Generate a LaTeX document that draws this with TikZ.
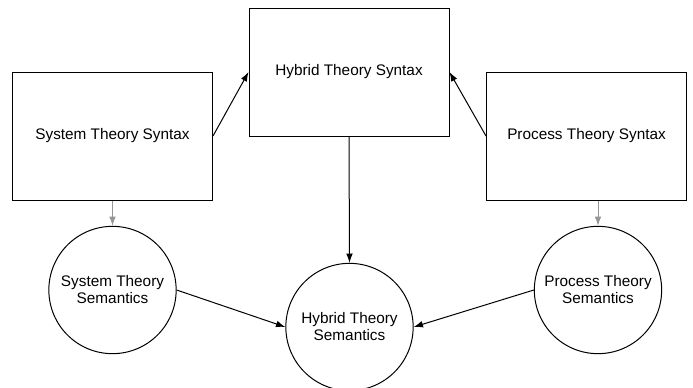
\documentclass[tikz,border=0pt]{standalone}
\usepackage{fontspec}
\setmainfont{Liberation Sans}
\usetikzlibrary{arrows.meta}
\definecolor{softgray}{RGB}{150,150,150}
\tikzset{
  syntaxbox/.style={draw, line width=0.75pt, minimum width=150pt, minimum height=96pt, inner sep=0pt},
  semcircle/.style={draw, circle, line width=0.75pt, minimum size=95.5pt, inner sep=0pt, align=center},
  link/.style={line width=0.75pt, -{Latex[length=7pt,width=5pt]}},
  graylink/.style={link, softgray}
}
\begin{document}
\begin{tikzpicture}[x=0.75pt, y=-0.75pt, font=\fontsize{11.5}{12.75}\selectfont]
    \clip (0,0) rectangle (693,387);
    \fill[white] (0,0) rectangle (693,387);
    % syntax boxes
    \node[syntaxbox] (stsyn) at (112.5,136) {System Theory Syntax};
    \node[syntaxbox] (htsyn) at (349,72) {Hybrid Theory Syntax};
    \node[syntaxbox] (ptsyn) at (586.5,136) {Process Theory Syntax};
    % semantics circles
    \node[semcircle] (stsem) at (112.5,290) {System Theory\\Semantics};
    \node[semcircle] (htsem) at (349.5,327) {Hybrid Theory\\Semantics};
    \node[semcircle] (ptsem) at (598,290) {Process Theory\\Semantics};
    % connectors
    \draw[link] (stsyn.east) -- (htsyn.west);
    \draw[link] (ptsyn.west) -- (htsyn.east);
    \draw[link] (htsyn.south) -- (htsem.north);
    \draw[link] (stsem.east) -- (htsem.west);
    \draw[link] (ptsem.west) -- (htsem.east);
    \draw[graylink] (stsyn.south) -- (stsem.north);
    \draw[graylink] (ptsyn.south -| ptsem.north) -- (ptsem.north);
\end{tikzpicture}
\end{document}
